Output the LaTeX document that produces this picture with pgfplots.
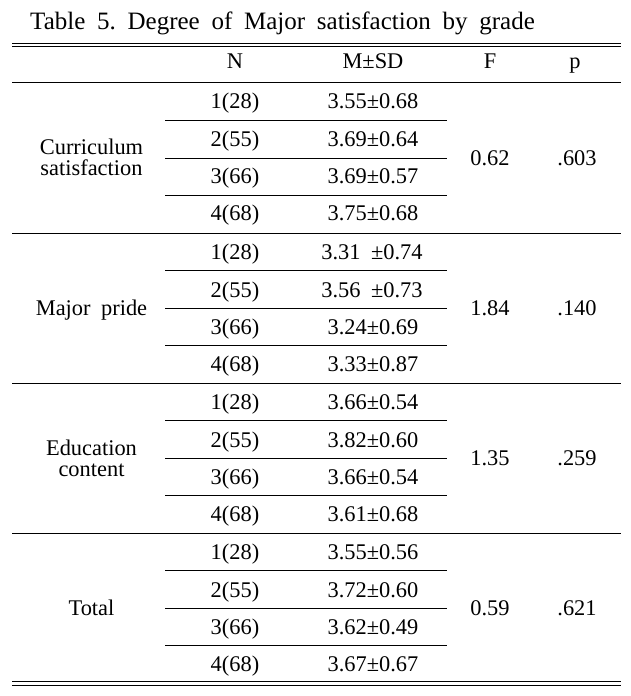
\documentclass[border=0pt]{standalone}
\usepackage{fontspec}
\setmainfont{Liberation Serif}
\usepackage{pgfplots}
\pgfplotsset{compat=1.18}
\newcommand\bodyfont{\fontsize{22.4bp}{26bp}\selectfont\spaceskip=0.47em\relax}
\newcommand\titlefont{\fontsize{25bp}{30bp}\selectfont\spaceskip=0.47em\relax}
\begin{document}
\frenchspacing
\begin{tikzpicture}
\begin{axis}[scale only axis, width=631bp, height=696bp,
  xmin=0, xmax=631, ymin=0, ymax=696, y dir=reverse,
  hide axis, clip=false,
  txt/.style={draw=none, mark=none, nodes near coords, point meta=explicit symbolic,
    every node near coord/.append style={anchor=base, inner sep=0pt, font=\bodyfont, text=black}},
  rule/.style={black, line width=1.2bp, mark=none},
  dbl/.style={black, line width=0.9bp, mark=none},
]
\path[fill=white] (axis cs:0,0) rectangle (axis cs:631,696);
% title
\addplot[txt, every node near coord/.append style={anchor=base west, font=\titlefont}]
  coordinates {(30,29.3) [Table 5. Degree of Major satisfaction by grade]};
% rules
\addplot[dbl] coordinates {(12,43.3)(621,43.3)};
\addplot[dbl] coordinates {(12,46.9)(621,46.9)};
\addplot[rule] coordinates {(12,82.7)(621,82.7)};
\addplot[rule] coordinates {(12,233.2)(621,233.2)};
\addplot[rule] coordinates {(12,383.3)(621,383.3)};
\addplot[rule] coordinates {(12,533.3)(621,533.3)};
\addplot[dbl] coordinates {(12,681.7)(621,681.7)};
\addplot[dbl] coordinates {(12,685.2)(621,685.2)};
% inner rules
\addplot[rule] coordinates {(165,120.7)(446.7,120.7)};
\addplot[rule] coordinates {(165,158.3)(446.7,158.3)};
\addplot[rule] coordinates {(165,195.3)(446.7,195.3)};
\addplot[rule] coordinates {(165,270.6)(446.7,270.6)};
\addplot[rule] coordinates {(165,308.5)(446.7,308.5)};
\addplot[rule] coordinates {(165,345.7)(446.7,345.7)};
\addplot[rule] coordinates {(165,420.7)(446.7,420.7)};
\addplot[rule] coordinates {(165,458.3)(446.7,458.3)};
\addplot[rule] coordinates {(165,495.7)(446.7,495.7)};
\addplot[rule] coordinates {(165,570.7)(446.7,570.7)};
\addplot[rule] coordinates {(165,608.3)(446.7,608.3)};
\addplot[rule] coordinates {(165,645.3)(446.7,645.3)};
% header
\addplot[txt] coordinates {(235,68.3) [N] (373,68.3) [M±SD] (490,68.3) [F] (575,68.3) [p]};
% row labels
\addplot[txt] coordinates {(91.5,154.2) [Curriculum] (91.5,175.9) [satisfaction]
  (91.5,315.7) [Major pride] (91.5,455) [Education] (91.5,476.7) [content] (91.5,615.8) [Total]};
% N column
\addplot[txt] coordinates {
  (235,109) [1(28)] (235,146.5) [2(55)] (235,183.8) [3(66)] (235,220.5) [4(68)]
  (235,259.5) [1(28)] (235,297) [2(55)] (235,334.3) [3(66)] (235,371) [4(68)]
  (235,409.6) [1(28)] (235,447) [2(55)] (235,484.5) [3(66)] (235,521.2) [4(68)]
  (235,559.6) [1(28)] (235,597) [2(55)] (235,634.5) [3(66)] (235,671.2) [4(68)]};
% M +- SD column
\addplot[txt] coordinates {
  (373,109) [3.55±0.68] (373,146.5) [3.69±0.64] (373,183.8) [3.69±0.57] (373,220.5) [3.75±0.68]
  (372,259.5) [3.31\ ±0.74] (372,297) [3.56\ ±0.73] (373,334.3) [3.24±0.69] (373,371) [3.33±0.87]
  (373,409.6) [3.66±0.54] (373,447) [3.82±0.60] (373,484.5) [3.66±0.54] (373,521.2) [3.61±0.68]
  (373,559.6) [3.55±0.56] (373,597) [3.72±0.60] (373,634.5) [3.62±0.49] (373,671.2) [3.67±0.67]};
% F and p
\addplot[txt] coordinates {(490,165.2) [0.62] (490,315.7) [1.84] (490,465.8) [1.35] (490,615.8) [0.59]};
\addplot[txt] coordinates {(577,165.2) [.603] (577,315.7) [.140] (577,465.8) [.259] (577,615.8) [.621]};
\end{axis}
\end{tikzpicture}
\end{document}
